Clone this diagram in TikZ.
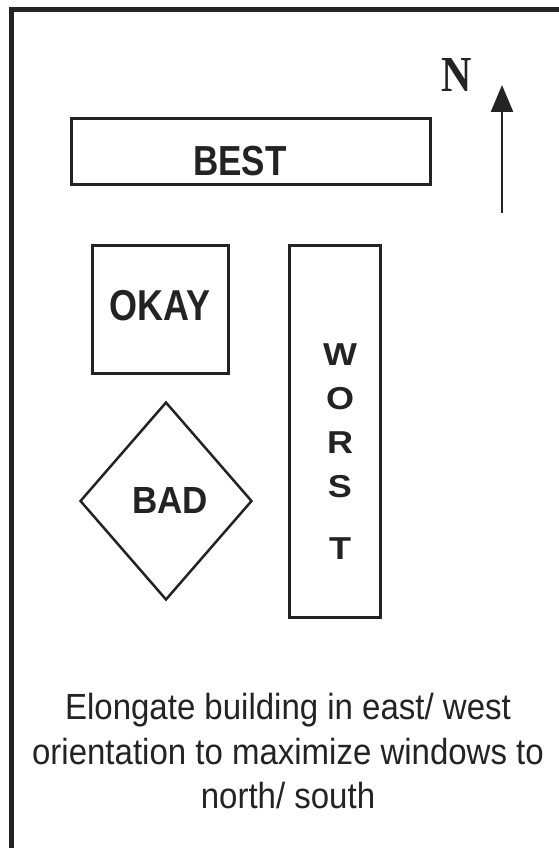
\documentclass[tikz,border=0pt]{standalone}
\usepackage{fontspec}
\setmainfont{Liberation Sans}
\newfontfamily\serifN{Liberation Serif}
\usetikzlibrary{shapes.geometric,arrows.meta}
\definecolor{ink}{RGB}{35,35,35}
\begin{document}
\begin{tikzpicture}[x=1pt,y=-1pt,
  box/.style={draw=ink,line width=3pt,inner sep=0pt},
  bigtxt/.style={text=ink,inner sep=0pt,font=\fontsize{35}{40}\selectfont\bfseries},
  lettertxt/.style={text=ink,inner sep=0pt,font=\fontsize{36}{40}\selectfont\bfseries}]
\useasboundingbox (0,0) rectangle (558,848);
% frame (top and left edges)
\coordinate (fbl) at (11,850);
\coordinate (ftl) at (11,9.5);
\coordinate (ftr) at (560,9.5);
\draw[ink,line width=5pt] (fbl) -- (ftl) -- (ftr);
% BEST
\node[box,minimum width=359pt,minimum height=65pt] (best) at (250.5,151.5) {};
\node[bigtxt] (besttxt) at (240,161) {\scalebox{1}[1.2]{BEST}};
% OKAY
\node[box,minimum width=136pt,minimum height=128pt] (okay) at (160,309) {};
\node[bigtxt,font=\fontsize{36}{40}\selectfont\bfseries] (okaytxt) at (160,306) {\scalebox{1}[1.2]{OKAY}};
% BAD
\node[draw=ink,line width=2.5pt,diamond,inner sep=0pt,minimum width=172pt,minimum height=198pt] (bad) at (166,501) {};
\node[bigtxt] (badtxt) at (170,500) {\scalebox{1}[1.08]{BAD}};
% WORST
\node[box,minimum width=91pt,minimum height=372pt] (worst) at (334.5,431) {};
\node[lettertxt] (w1) at (340,355) {\scalebox{1}[0.88]{W}};
\node[lettertxt] (w2) at (340,399) {\scalebox{1}[0.88]{O}};
\node[lettertxt] (w3) at (340,443) {\scalebox{1}[0.88]{R}};
\node[lettertxt] (w4) at (340,487) {\scalebox{1}[0.88]{S}};
\node[lettertxt] (w5) at (340,549) {\scalebox{1}[0.88]{T}};
% North arrow
\node[text=ink,inner sep=0pt,font=\serifN\fontsize{42}{46}\selectfont\bfseries] (north) at (457,75) {\scalebox{1}[1.2]{N}};
\coordinate (ntail) at (502,213);
\coordinate (ntip) at (502,85);
\draw[ink,line width=2.5pt,-{Triangle[width=22pt,length=27pt]}] (ntail) -- (ntip);
% caption
\node[text=ink,inner sep=0pt,anchor=north,align=center,font=\fontsize{33}{44.5}\selectfont] (cap) at (288,693)
  {\scalebox{1}[1.1]{Elongate building in east/ west}\\\scalebox{1}[1.1]{orientation to maximize windows to}\\\scalebox{1}[1.1]{north/ south}};
\end{tikzpicture}
\end{document}
